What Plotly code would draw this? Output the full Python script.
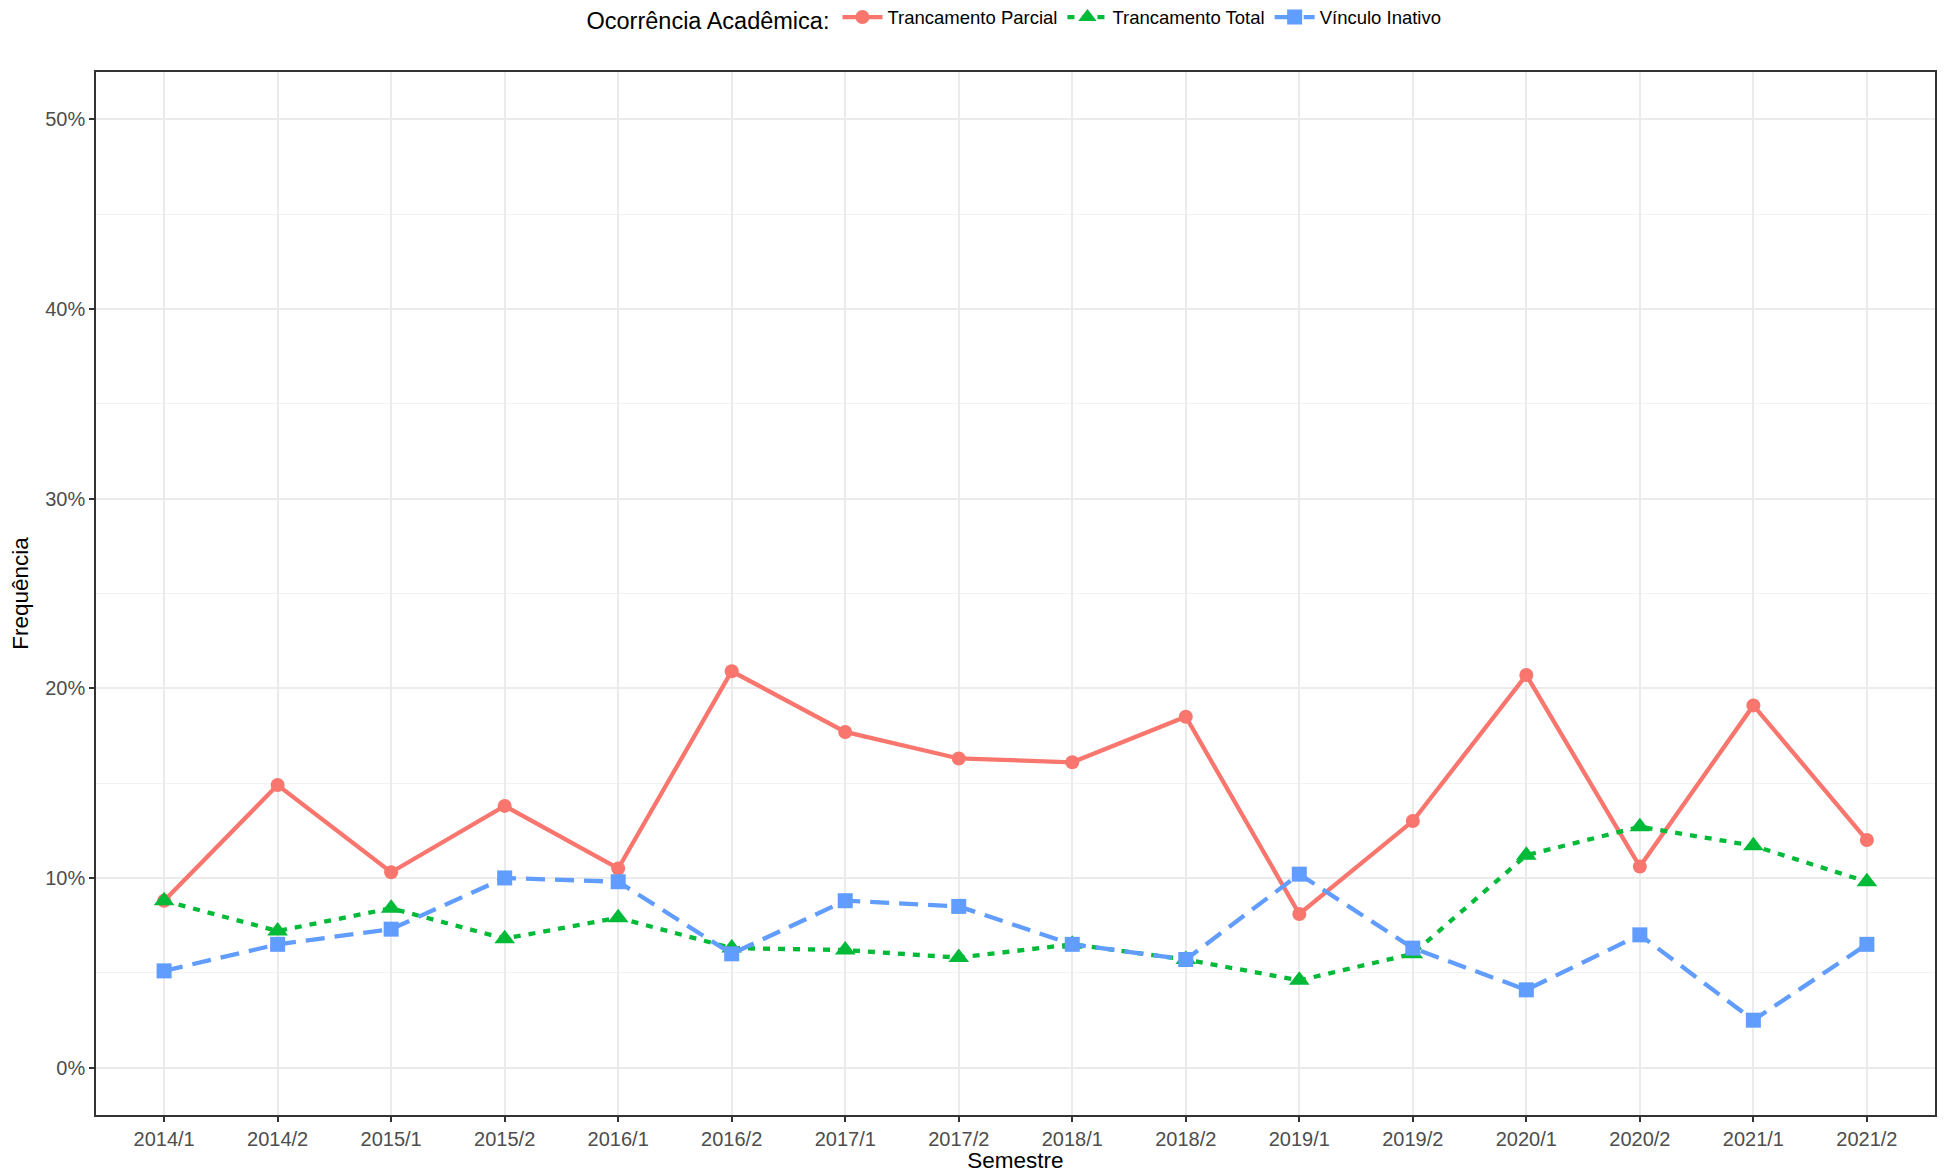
import plotly.graph_objects as go

semestres = ['2014/1', '2014/2', '2015/1', '2015/2', '2016/1', '2016/2', '2017/1', '2017/2',
             '2018/1', '2018/2', '2019/1', '2019/2', '2020/1', '2020/2', '2021/1', '2021/2']

# frequencias (fracao)
trancamento_parcial = [0.088, 0.149, 0.103, 0.138, 0.105, 0.209, 0.177, 0.163,
                       0.161, 0.185, 0.081, 0.130, 0.207, 0.106, 0.191, 0.120]
trancamento_total = [0.088, 0.072, 0.084, 0.068, 0.079, 0.063, 0.062, 0.058,
                     0.065, 0.057, 0.046, 0.060, 0.112, 0.127, 0.117, 0.098]
vinculo_inativo = [0.051, 0.065, 0.073, 0.100, 0.098, 0.060, 0.088, 0.085,
                   0.065, 0.057, 0.102, 0.063, 0.041, 0.070, 0.025, 0.065]

series = [
    ('Trancamento Parcial', trancamento_parcial, '#F8766D', 'solid', 'circle', 14),
    ('Trancamento Total', trancamento_total, '#00BA38', '7px,8px', 'triangle-up', 18),
    ('Vínculo Inativo', vinculo_inativo, '#619CFF', '19px,10px', 'square', 15),
]

fig = go.Figure()
for nome, vals, cor, dash, simbolo, tam in series:
    fig.add_trace(go.Scatter(
        x=semestres, y=vals, name=nome, mode='lines+markers',
        line=dict(color=cor, width=4.3, dash=dash),
        marker=dict(color=cor, symbol=simbolo, size=tam, line=dict(width=0)),
    ))

# a pagina tem margem de 8px no body, por isso a figura fica 8px menor
W, H = 1946, 1165
font = 'Liberation Sans, Arial, sans-serif'
fig.update_layout(
    width=W, height=H,
    paper_bgcolor='white', plot_bgcolor='white',
    font=dict(family=font, color='black'),
    margin=dict(l=88, r=19, t=64, b=58, autoexpand=False),
    legend=dict(
        orientation='h', x=0.5, xanchor='center',
        yref='container', y=1 - 11 / H, yanchor='middle',
        title=dict(text='Ocorrência Acadêmica:', font=dict(size=23.5, color='black'), side='left'),
        font=dict(size=18.5, color='black'),
        itemwidth=40, tracegroupgap=0,
    ),
    xaxis=dict(
        title=dict(text='Semestre', font=dict(size=22.5, color='black'), standoff=2),
        type='category', range=[-0.6, 15.6],
        showgrid=True, gridcolor='#EBEBEB', gridwidth=1.5,
        showline=True, linecolor='#333333', linewidth=1.5, mirror=True,
        ticks='outside', ticklen=5, tickcolor='#333333', tickwidth=1.5,
        tickfont=dict(size=20, color='#4D4D4D'),
        zeroline=False,
    ),
    yaxis=dict(
        title=dict(text='Frequência', font=dict(size=22.5, color='black'), standoff=10),
        range=[-0.025, 0.525], tickvals=[0, 0.1, 0.2, 0.3, 0.4, 0.5], tickformat='.0%',
        showgrid=True, gridcolor='#EBEBEB', gridwidth=1.5,
        minor=dict(dtick=0.05, tick0=0, showgrid=True, gridcolor='#F2F2F2', gridwidth=1),
        showline=True, linecolor='#333333', linewidth=1.5, mirror=True,
        ticks='outside', ticklen=5, tickcolor='#333333', tickwidth=1.5,
        tickfont=dict(size=20, color='#4D4D4D'),
        zeroline=False,
    ),
)

fig.write_html('out.html')
